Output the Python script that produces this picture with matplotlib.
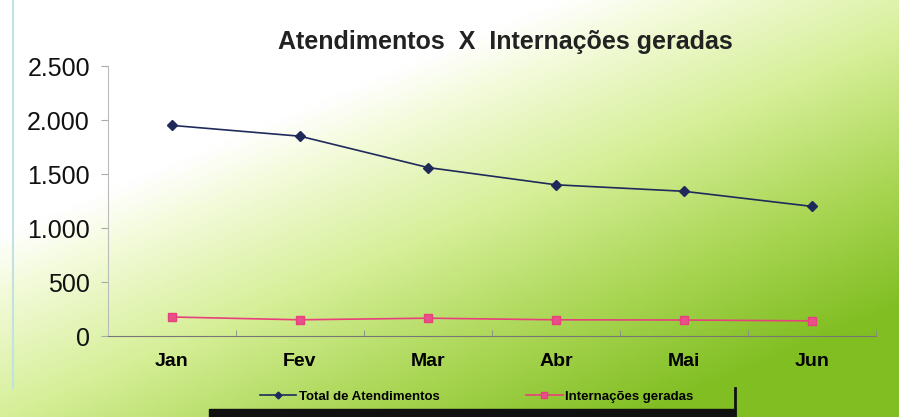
import numpy as np
import matplotlib.pyplot as plt
from matplotlib.colors import LinearSegmentedColormap
from matplotlib.patches import Rectangle
from matplotlib.ticker import FuncFormatter

plt.rcParams['font.family'] = ['Liberation Sans', 'DejaVu Sans']

# Data
months = ['Jan', 'Fev', 'Mar', 'Abr', 'Mai', 'Jun']
atendimentos = [1950, 1850, 1560, 1400, 1340, 1200]
internacoes = [176, 150, 165, 150, 148, 140]
yticks = [0, 500, 1000, 1500, 2000, 2500]

fig = plt.figure(figsize=(8.99, 4.17), dpi=100)

# background gradient: white top-left to lime bottom-right
bg = fig.add_axes([0, 0, 1, 1], zorder=-10)
xx, yy = np.meshgrid(np.linspace(0, 1, 300), np.linspace(0, 1, 150))
t = np.clip((xx + yy * 1.1 - 0.62) / 1.2, 0, 1)
cmap = LinearSegmentedColormap.from_list(
    'bgg', [(0, '#ffffff'), (0.12, '#f4fbdc'), (0.4, '#d6ef98'), (0.72, '#a8d552'), (1, '#80be22')])
bg.imshow(t, cmap=cmap, aspect='auto', extent=[0, 1, 0, 1], origin='upper')
bg.set_xlim(0, 1)
bg.set_ylim(0, 1)
bg.axis('off')
# scan leftovers: left frame edge and black strip at the bottom
bg.plot([0.014, 0.014], [0.07, 1.0], color='#bfe3e0', lw=1.5)
bg.add_patch(Rectangle((0.233, 0.0), 0.585, 0.02, color='#111111'))
bg.plot([0.818, 0.818], [0.0, 0.07], color='#111111', lw=2)

ax = fig.add_axes([108 / 899, (417 - 336) / 417, (876 - 108) / 899, (336 - 66) / 417])
ax.patch.set_alpha(0)

x = np.arange(len(months))
ax.plot(x, atendimentos, color='#1f2a5a', lw=1.2, marker='D', ms=5,
        label='Total de Atendimentos')
ax.plot(x, internacoes, color='#e8407a', lw=1.2, marker='s', ms=6,
        markerfacecolor='#e8508a', label='Internações geradas')

ax.set_xlim(-0.5, len(months) - 0.5)
ax.set_ylim(0, 2500)
ax.set_yticks(yticks)
ax.yaxis.set_major_formatter(FuncFormatter(lambda v, p: f'{int(v):,}'.replace(',', '.')))
ax.tick_params(axis='y', labelsize=18, length=5, color='#aaaaaa', pad=8, labelcolor='#111111')

ax.set_xticks(x)
ax.set_xticklabels(months, fontsize=14, fontweight='bold')
ax.set_xticks(np.arange(len(months) + 1) - 0.5, minor=True)
ax.tick_params(axis='x', which='major', length=0, pad=12)
ax.tick_params(axis='x', which='minor', length=4, color='#888888', direction='in')

for s in ['top', 'right']:
    ax.spines[s].set_visible(False)
ax.spines['left'].set_color('#bbbbbb')
ax.spines['bottom'].set_color('#777777')

fig.text(0.562, 0.9, 'Atendimentos  X  Internações geradas', ha='center', va='center',
         fontsize=18, fontweight='bold', color='#222222')

leg = fig.legend(loc='center', bbox_to_anchor=(0.53, 0.048), ncol=2, frameon=False,
                 prop={'size': 9.5, 'weight': 'bold'}, columnspacing=6.5, handlelength=2.8,
                 handletextpad=0.2, markerscale=0.7)

fig.savefig('out.png', dpi=100)
